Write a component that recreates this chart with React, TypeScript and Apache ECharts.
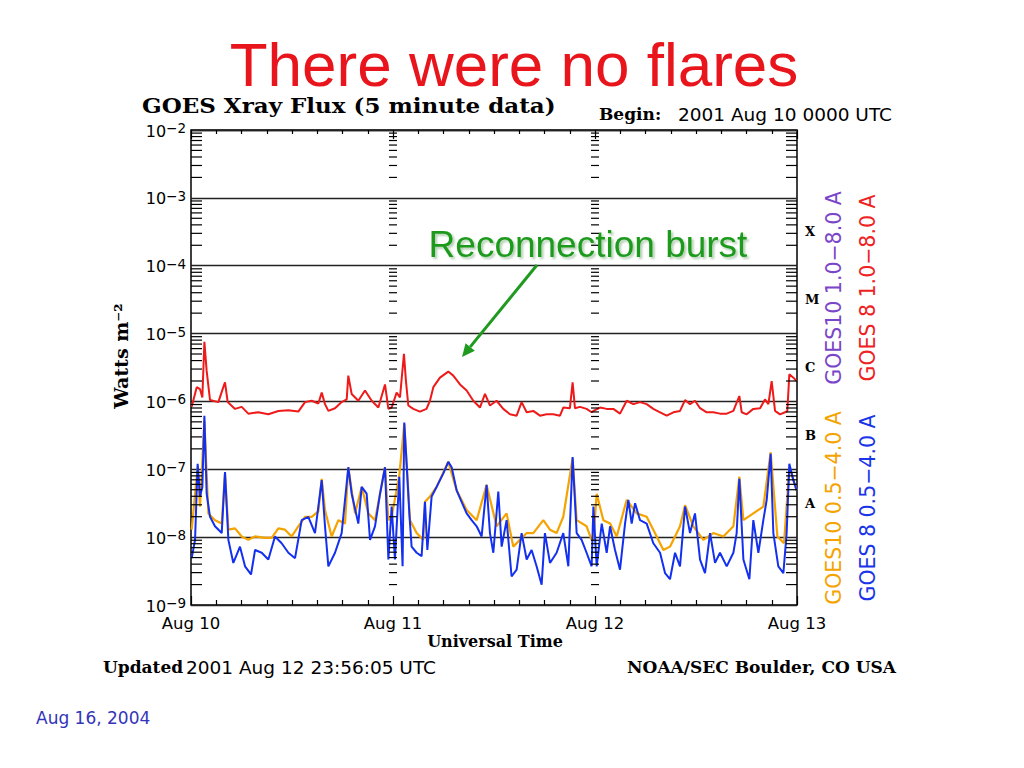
import React, { useEffect, useRef } from 'react';
import * as echarts from 'echarts';

// Time axis: hours since 2001 Aug 10 0000 UTC
const dayLabels = ['Aug 10', 'Aug 11', 'Aug 12', 'Aug 13'];
const classLabels = ['X', 'M', 'C', 'B', 'A'];
const classLevelsLog = [-3.5, -4.5, -5.5, -6.5, -7.5];

// [hour, log10(W m^-2)]
const goes8LongLog: [number, number][] = [
  [0.08, -6.08], [0.68, -5.79], [1.07, -5.82], [1.35, -5.94], [1.59, -5.12], [1.86, -5.55], [2.26, -5.98], [3.25, -6.01],
  [3.84, -5.79], [4.04, -5.72], [4.36, -6.01], [5.23, -6.11], [6.02, -6.08], [6.81, -6.18], [8.0, -6.16], [9.19, -6.19],
  [10.38, -6.14], [11.57, -6.13], [12.75, -6.15], [13.55, -6.01], [14.34, -5.99], [15.13, -6.03], [15.53, -5.87], [15.92, -6.04],
  [16.32, -6.14], [17.11, -6.1], [17.9, -6.01], [18.5, -5.97], [18.69, -5.62], [19.09, -5.89], [19.88, -5.99], [20.67, -5.84],
  [21.47, -5.99], [22.26, -6.09], [23.05, -5.75], [23.45, -6.11],
  [23.84, -6.09], [24.43, -5.87], [24.83, -5.94], [25.3, -5.3], [25.54, -5.7], [25.82, -6.06], [26.41, -6.11], [27.2, -6.15],
  [27.98, -6.11], [28.39, -5.99], [28.79, -5.79], [29.58, -5.65], [30.57, -5.56], [31.16, -5.62], [31.96, -5.75], [32.75, -5.84],
  [33.54, -5.99], [34.33, -6.09], [34.93, -5.89], [35.52, -6.06], [36.31, -5.99], [37.1, -6.11], [37.9, -6.19], [38.69, -6.21],
  [39.28, -6.01], [39.88, -6.16], [40.67, -6.14], [41.46, -6.21], [42.25, -6.19], [43.04, -6.19], [43.84, -6.21], [44.23, -6.09],
  [45.02, -6.1], [45.34, -5.72], [45.62, -6.1], [46.21, -6.08], [47.0, -6.11], [47.6, -6.16],
  [47.81, -6.14], [48.6, -6.09], [49.39, -6.11], [50.18, -6.11], [50.97, -6.18], [51.77, -5.99], [52.56, -6.04], [53.35, -6.01],
  [54.14, -6.04], [54.93, -6.11], [55.73, -6.16], [56.52, -6.21], [57.31, -6.16], [58.1, -6.14], [58.7, -5.98], [59.29, -6.04],
  [59.88, -5.99], [60.48, -6.1], [61.27, -6.16], [62.06, -6.16], [62.85, -6.18], [63.65, -6.18], [64.44, -6.14], [65.15, -5.92],
  [65.43, -6.16], [66.02, -6.19], [66.81, -6.11], [67.61, -6.1], [68.2, -5.97], [68.6, -6.04], [68.99, -5.7], [69.39, -6.14],
  [69.98, -6.19], [70.58, -6.16], [70.85, -6.14], [71.09, -5.6], [71.57, -5.65], [71.96, -5.7],
];

const goes8ShortLog: [number, number][] = [
  [0.08, -8.31], [0.48, -8.04], [0.79, -6.92], [1.07, -7.4], [1.35, -7.26], [1.59, -6.21], [1.86, -7.36], [2.26, -7.7],
  [2.85, -7.84], [3.65, -7.94], [4.04, -7.04], [4.44, -8.04], [5.03, -8.38], [5.82, -8.14], [6.42, -8.43], [7.13, -8.55],
  [7.61, -8.19], [8.4, -8.23], [9.19, -8.33], [9.98, -7.99], [10.77, -8.09], [11.57, -8.23], [12.36, -8.31], [13.15, -7.75],
  [13.94, -7.7], [14.73, -7.94], [15.53, -7.16], [15.92, -7.84], [16.32, -8.43], [17.11, -8.23], [17.9, -7.94], [18.69, -6.97],
  [19.09, -7.36], [19.88, -7.8], [20.28, -7.26], [20.87, -7.36], [21.27, -8.04], [21.86, -7.84], [22.46, -7.36], [23.05, -6.97],
  [23.45, -8.33],
  [23.84, -7.55], [24.23, -8.33], [24.75, -7.11], [25.14, -8.43], [25.34, -6.31], [25.62, -6.92], [25.94, -7.65], [26.21, -8.14],
  [26.81, -8.23], [27.4, -8.28], [27.8, -7.48], [28.08, -8.19], [28.59, -7.4], [29.18, -7.26], [29.98, -7.06], [30.57, -6.89],
  [30.97, -6.97], [31.56, -7.31], [32.15, -7.48], [32.75, -7.65], [33.34, -7.75], [33.94, -7.84], [34.53, -7.99], [35.12, -7.23],
  [35.52, -7.94], [35.92, -8.23], [36.51, -7.33], [36.91, -8.14], [37.5, -7.75], [38.09, -8.58], [38.69, -8.48], [39.28, -7.94],
  [39.88, -8.33], [40.47, -8.19], [41.06, -8.43], [41.66, -8.7], [42.05, -7.94], [42.65, -8.38], [43.44, -8.23], [44.23, -7.94],
  [44.83, -8.43], [45.34, -6.82], [45.82, -7.94], [46.41, -8.04], [47.0, -8.23], [47.6, -8.43],
  [47.81, -7.55], [48.2, -8.43], [48.8, -7.8], [49.39, -8.23], [49.79, -7.84], [50.38, -8.19], [50.97, -8.48], [51.57, -7.8],
  [51.96, -7.45], [52.36, -7.8], [52.76, -7.5], [53.35, -7.75], [54.14, -7.8], [54.93, -8.09], [55.73, -8.23], [56.32, -8.53],
  [56.91, -8.62], [57.51, -8.23], [58.1, -8.43], [58.7, -7.55], [59.29, -7.94], [59.88, -7.65], [60.48, -8.33], [61.07, -8.53],
  [61.67, -7.94], [62.26, -8.38], [62.85, -8.23], [63.65, -8.43], [64.44, -8.23], [64.83, -7.94], [65.15, -7.14], [65.63, -8.33],
  [66.34, -8.62], [66.81, -7.75], [67.41, -8.23], [68.0, -7.75], [68.4, -7.45], [68.87, -6.77], [69.19, -7.94], [69.78, -8.43],
  [70.38, -8.53], [70.77, -7.94], [71.09, -6.92], [71.57, -7.16], [71.96, -7.31],
];

const goes10ShortLog: [number, number][] = [
  [0.08, -7.89], [0.79, -6.97], [1.07, -7.55], [1.59, -6.28], [2.06, -7.65], [2.85, -7.75], [3.65, -7.8], [4.04, -7.06],
  [4.44, -7.89], [5.23, -7.87], [6.02, -7.99], [6.81, -8.04], [7.61, -7.99], [8.79, -8.01], [9.59, -8.01], [10.38, -7.87],
  [11.17, -7.89], [11.96, -7.99], [12.75, -7.84], [13.55, -7.7], [14.34, -7.7], [15.13, -7.62], [15.53, -7.14], [15.92, -7.6],
  [16.71, -7.99], [17.51, -7.75], [18.3, -7.8], [18.69, -6.97], [19.49, -7.65], [20.28, -7.26], [21.07, -7.65], [21.86, -7.75],
  [22.46, -7.36], [23.05, -6.97], [23.45, -7.75],
  [23.84, -7.7], [24.75, -7.09], [25.34, -6.33], [26.02, -7.75], [26.81, -7.94], [27.6, -8.04], [27.8, -7.48], [28.39, -7.4],
  [29.18, -7.26], [30.57, -6.89], [31.56, -7.31], [32.75, -7.6], [33.94, -7.75], [35.12, -7.23], [36.31, -7.84], [37.5, -7.65],
  [38.29, -8.14], [39.08, -8.04], [39.88, -7.94], [40.67, -7.94], [41.86, -7.75], [42.65, -7.89], [43.44, -7.94], [44.23, -7.7],
  [45.34, -6.84], [45.82, -7.75], [47.0, -7.84], [47.6, -8.04],
  [47.81, -8.04], [48.2, -7.36], [48.99, -7.75], [49.79, -7.8], [50.58, -7.99], [51.77, -7.45], [52.95, -7.65], [54.14, -7.7],
  [55.33, -7.99], [56.12, -8.19], [56.91, -8.14], [58.1, -7.84], [58.7, -7.53], [59.69, -7.84], [60.87, -8.04], [62.06, -7.94],
  [63.25, -7.99], [64.44, -7.84], [65.15, -7.11], [65.63, -7.75], [66.81, -7.65], [68.0, -7.55], [68.87, -6.75], [69.67, -7.99],
  [70.46, -8.09], [71.09, -6.97], [71.96, -7.31],
];

const SANS = '"DejaVu Sans", sans-serif';
const SERIF = '"DejaVu Serif", serif';

export default function App() {
  const ref = useRef<HTMLDivElement>(null);

  useEffect(() => {
    const chart = echarts.init(ref.current!, null, { renderer: 'svg' });
    const toFlux = (arr: [number, number][]) => arr.map(([h, e]) => [h, Math.pow(10, e)]);

    const minorTicks: number[][] = [];
    for (let n = -9; n < -2; n++) {
      for (let k = 2; k < 10; k++) minorTicks.push([0, k * Math.pow(10, n)]);
    }
    const classData = classLevelsLog.map((e, i) => [72, Math.pow(10, e), i]);

    const green = '#1f9a1f';
    // arrow geometry
    const ax0 = 537, ay0 = 265, ax1 = 462, ay1 = 357;
    const dx = ax1 - ax0, dy = ay1 - ay0;
    const len = Math.sqrt(dx * dx + dy * dy);
    const ux = dx / len, uy = dy / len;
    const bx = ax1 - ux * 13, by = ay1 - uy * 13;
    const px = -uy, py = ux;

    const option: any = {
      animation: false,
      backgroundColor: '#fff',
      grid: {
        left: 191, top: 130, right: 227, bottom: 163,
        show: true, borderColor: '#000', borderWidth: 1.5,
      },
      xAxis: [
        {
          type: 'value', min: 0, max: 72, interval: 24, position: 'bottom',
          axisLine: { show: false },
          axisTick: { show: true, inside: true, length: 9, lineStyle: { color: '#000', width: 1.2 } },
          minorTick: { show: true, splitNumber: 8, length: 5, lineStyle: { color: '#000', width: 1.2 } },
          splitLine: { show: false },
          axisLabel: {
            formatter: (v: number) => dayLabels[Math.round(v / 24)] ?? '',
            fontFamily: SANS, fontSize: 16.5, color: '#000', margin: 10,
          },
        },
        {
          type: 'value', min: 0, max: 72, interval: 24, position: 'top',
          axisLine: { show: false },
          axisTick: { show: true, inside: true, length: 9, lineStyle: { color: '#000', width: 1.2 } },
          minorTick: { show: true, splitNumber: 8, length: 4, lineStyle: { color: '#000', width: 1.2 } },
          splitLine: { show: false },
          axisLabel: { show: false },
        },
      ],
      yAxis: {
        type: 'log', logBase: 10, min: 1e-9, max: 1e-2, interval: 1,
        axisLine: { show: false },
        axisTick: { show: false },
        splitLine: { show: true, lineStyle: { color: '#222', width: 1.4 } },
        axisLabel: {
          margin: 5,
          formatter: (v: number) => {
            const e = Math.round(Math.log10(v));
            return `{b|10}{s|\u2212${-e}}`;
          },
          rich: {
            b: { fontFamily: SANS, fontSize: 16, color: '#000', lineHeight: 18, verticalAlign: 'bottom' },
            s: { fontFamily: SANS, fontSize: 13.5, color: '#000', lineHeight: 14, verticalAlign: 'top', padding: [0, 0, 12, 0] },
          },
        },
      },
      series: [
        {
          type: 'line', name: 'GOES10 0.5-4.0 A', data: toFlux(goes10ShortLog),
          showSymbol: false, lineStyle: { color: '#f5a300', width: 2.2 }, itemStyle: { color: '#f5a300' }, z: 2,
        },
        {
          type: 'line', name: 'GOES 8 0.5-4.0 A', data: toFlux(goes8ShortLog),
          showSymbol: false, lineStyle: { color: '#1330f0', width: 2 }, itemStyle: { color: '#1330f0' }, z: 3,
        },
        {
          type: 'line', name: 'GOES 8 1.0-8.0 A', data: toFlux(goes8LongLog),
          showSymbol: false, lineStyle: { color: '#ee1a1a', width: 2 }, itemStyle: { color: '#ee1a1a' }, z: 4,
        },
        {
          type: 'custom', silent: true, clip: false, z: 5,
          data: minorTicks, encode: { x: 0, y: 1 },
          renderItem: (_p: any, api: any) => {
            const v = api.value(1);
            const pL = api.coord([0, v]);
            const pR = api.coord([72, v]);
            const p1 = api.coord([24, v]);
            const p2 = api.coord([48, v]);
            const y = pL[1];
            const st = { stroke: '#000', lineWidth: 1.2 };
            return {
              type: 'group',
              children: [
                { type: 'line', shape: { x1: pL[0], y1: y, x2: pL[0] + 11, y2: y }, style: st },
                { type: 'line', shape: { x1: pR[0] - 11, y1: y, x2: pR[0], y2: y }, style: st },
                { type: 'line', shape: { x1: p1[0] - 4, y1: y, x2: p1[0] + 4, y2: y }, style: st },
                { type: 'line', shape: { x1: p2[0] - 4, y1: y, x2: p2[0] + 4, y2: y }, style: st },
              ],
            };
          },
        },
        {
          type: 'custom', silent: true, clip: false, z: 5,
          data: classData, encode: { x: 0, y: 1 },
          renderItem: (_p: any, api: any) => {
            const p = api.coord([api.value(0), api.value(1)]);
            return {
              type: 'text', x: p[0] + 8, y: p[1],
              style: {
                text: classLabels[api.value(2)], fill: '#000',
                font: `bold 13px ${SERIF}`, align: 'left', verticalAlign: 'middle',
                textAlign: 'left', textVerticalAlign: 'middle',
              },
            };
          },
        },
      ],
      graphic: [
        {
          type: 'text', x: 514, y: 64,
          style: { text: 'There were no flares', font: '62px "Liberation Sans", Arial, sans-serif', fill: '#e8161c', align: 'center', verticalAlign: 'middle', textAlign: 'center', textVerticalAlign: 'middle' },
        },
        {
          type: 'text', x: 142, y: 106, scaleX: 1.15,
          style: { text: 'GOES Xray Flux (5 minute data)', font: `bold 20px ${SERIF}`, fill: '#000', align: 'left', verticalAlign: 'middle', textAlign: 'left', textVerticalAlign: 'middle' },
        },
        {
          type: 'text', x: 599, y: 114,
          style: { text: 'Begin:', font: `bold 17px ${SERIF}`, fill: '#000', align: 'left', verticalAlign: 'middle', textAlign: 'left', textVerticalAlign: 'middle' },
        },
        {
          type: 'text', x: 678, y: 114,
          style: { text: '2001 Aug 10 0000 UTC', font: `18.5px ${SANS}`, fill: '#000', align: 'left', verticalAlign: 'middle', textAlign: 'left', textVerticalAlign: 'middle' },
        },
        {
          type: 'text', x: 121, y: 356, rotation: Math.PI / 2,
          style: { text: 'Watts m\u207B\u00B2', font: `bold 19px ${SERIF}`, fill: '#000', align: 'center', verticalAlign: 'middle', textAlign: 'center', textVerticalAlign: 'middle' },
        },
        {
          type: 'text', x: 495, y: 641,
          style: { text: 'Universal Time', font: `bold 16px ${SERIF}`, fill: '#000', align: 'center', verticalAlign: 'middle', textAlign: 'center', textVerticalAlign: 'middle' },
        },
        {
          type: 'text', x: 103, y: 667,
          style: { text: 'Updated', font: `bold 17px ${SERIF}`, fill: '#000', align: 'left', verticalAlign: 'middle', textAlign: 'left', textVerticalAlign: 'middle' },
        },
        {
          type: 'text', x: 186, y: 667,
          style: { text: '2001 Aug 12 23:56:05 UTC', font: `18.5px ${SANS}`, fill: '#000', align: 'left', verticalAlign: 'middle', textAlign: 'left', textVerticalAlign: 'middle' },
        },
        {
          type: 'text', x: 896, y: 667,
          style: { text: 'NOAA/SEC Boulder, CO USA', font: `bold 17px ${SERIF}`, fill: '#000', align: 'right', verticalAlign: 'middle', textAlign: 'right', textVerticalAlign: 'middle' },
        },
        {
          type: 'text', x: 834, y: 288, rotation: Math.PI / 2,
          style: { text: 'GOES10 1.0\u22128.0 A', font: `20.5px ${SANS}`, fill: '#7a45c8', align: 'center', verticalAlign: 'middle', textAlign: 'center', textVerticalAlign: 'middle' },
        },
        {
          type: 'text', x: 868, y: 288, rotation: Math.PI / 2,
          style: { text: 'GOES 8 1.0\u22128.0 A', font: `20.5px ${SANS}`, fill: '#ee2222', align: 'center', verticalAlign: 'middle', textAlign: 'center', textVerticalAlign: 'middle' },
        },
        {
          type: 'text', x: 834, y: 508, rotation: Math.PI / 2,
          style: { text: 'GOES10 0.5\u22124.0 A', font: `20.5px ${SANS}`, fill: '#f5a300', align: 'center', verticalAlign: 'middle', textAlign: 'center', textVerticalAlign: 'middle' },
        },
        {
          type: 'text', x: 868, y: 508, rotation: Math.PI / 2,
          style: { text: 'GOES 8 0.5\u22124.0 A', font: `20.5px ${SANS}`, fill: '#1a35e8', align: 'center', verticalAlign: 'middle', textAlign: 'center', textVerticalAlign: 'middle' },
        },
        {
          type: 'text', x: 588, y: 244, z: 20,
          style: {
            text: 'Reconnection burst', font: '37px "Liberation Sans", Arial, sans-serif', fill: green,
            align: 'center', verticalAlign: 'middle', textAlign: 'center', textVerticalAlign: 'middle',
            textShadowColor: 'rgba(20,110,20,0.35)', textShadowOffsetX: 2, textShadowOffsetY: 2, textShadowBlur: 2,
          },
        },
        {
          type: 'line', z: 20,
          shape: { x1: ax0, y1: ay0, x2: bx, y2: by },
          style: { stroke: green, lineWidth: 3 },
        },
        {
          type: 'polygon', z: 20,
          shape: { points: [[ax1, ay1], [bx + px * 6, by + py * 6], [bx - px * 6, by - py * 6]] },
          style: { fill: green },
        },
        {
          type: 'text', x: 36, y: 718,
          style: { text: 'Aug 16, 2004', font: `17px ${SANS}`, fill: '#3434b8', align: 'left', verticalAlign: 'middle', textAlign: 'left', textVerticalAlign: 'middle' },
        },
      ],
    };

    chart.setOption(option);
    return () => chart.dispose();
  }, []);

  return (
    <div
      ref={ref}
      style={{ position: 'absolute', left: 0, top: 0, width: 1024, height: 768, background: '#fff' }}
    />
  );
}
